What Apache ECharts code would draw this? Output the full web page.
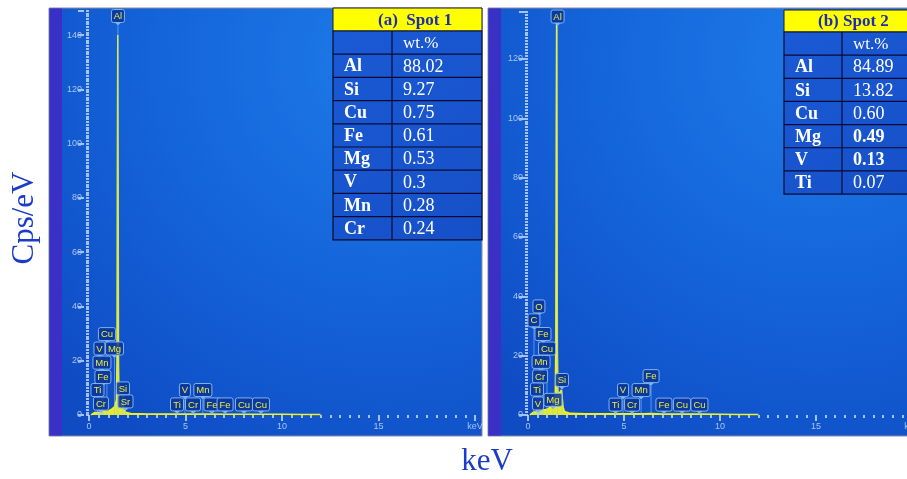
<!DOCTYPE html>
<html>
<head>
<meta charset="utf-8">
<script src="https://cdn.jsdelivr.net/npm/echarts@6/dist/echarts.min.js"></script>
<style>html,body{margin:0;padding:0;background:#fff;}#c{width:907px;height:479px;}</style>
</head>
<body>
<div id="c"></div>
<script>
// ---------- DATA ----------
const xTickValues = [0, 5, 10, 15, 20];
const yTickLabels = [0, 20, 40, 60, 80, 100, 120, 140];

const spot1Energy = [0.10,0.20,0.28,0.35,0.45,0.52,0.58,0.65,0.72,0.80,0.90,0.95,1.02,1.10,1.18,1.25,1.32,1.38,1.42,1.45,1.47,1.49,1.51,1.53,1.56,1.60,1.65,1.70,1.74,1.78,1.83,1.90,2.00,2.20,2.60,3.00,4.00,4.50,4.95,5.40,6.00,6.40,7.00,8.00,9.00,10.0,11.0,12.0];
const spot1Counts = [0.0,0.3,0.9,1.1,0.9,1.2,1.0,1.3,1.5,1.2,1.4,1.8,1.5,1.7,2.2,2.6,3.0,3.6,5.5,20,90,140,85,18,5.5,4.0,3.2,3.6,4.8,3.5,1.8,1.0,0.7,0.5,0.45,0.4,0.35,0.35,0.4,0.35,0.35,0.4,0.3,0.3,0.3,0.25,0.2,0.2];

const spot2Energy = spot1Energy;
const spot2Counts = [0.0,0.4,1.0,1.3,1.1,1.4,1.2,1.5,1.8,1.6,1.8,2.2,2.0,2.3,2.8,3.4,4.0,5.0,7.0,25,95,132,90,22,8.0,7.0,6.5,7.0,8.5,6.0,2.5,1.2,0.8,0.55,0.5,0.45,0.4,0.4,0.45,0.4,0.4,0.5,0.35,0.3,0.3,0.25,0.2,0.2];

// peak markers: [energy (keV), marker height (Cps/eV), element]
const spot1Peaks = [
  [1.50,147,'Al'],[0.93,29.8,'Cu'],[0.54,24.5,'V'],[1.32,24.5,'Mg'],[0.67,19.3,'Mn'],
  [0.72,14.0,'Fe'],[0.44,9.2,'Ti'],[1.76,9.8,'Si'],[0.62,4.2,'Cr'],[1.89,5.0,'Sr'],
  [4.56,3.9,'Ti'],[4.97,9.2,'V'],[5.39,3.9,'Cr'],[5.90,9.2,'Mn'],[6.37,3.9,'Fe'],
  [7.05,3.9,'Fe'],[8.03,3.9,'Cu'],[8.91,3.9,'Cu']
];
const spot2Peaks = [
  [1.54,134.3,'Al'],[0.57,36.6,'O'],[0.31,31.9,'C'],[0.78,27.3,'Fe'],[0.99,22.4,'Cu'],
  [0.68,17.9,'Mn'],[0.63,13.0,'Cr'],[0.47,8.6,'Ti'],[1.77,11.8,'Si'],[0.52,3.9,'V'],
  [1.30,5.1,'Mg'],[4.56,3.5,'Ti'],[4.95,8.4,'V'],[5.42,3.5,'Cr'],[5.89,8.4,'Mn'],
  [6.41,13.1,'Fe'],[7.08,3.5,'Fe'],[8.02,3.5,'Cu'],[8.93,3.5,'Cu']
];

const table1Title = '(a)  Spot 1';
const table1Elements = ['Al','Si','Cu','Fe','Mg','V','Mn','Cr'];
const table1Values = ['88.02','9.27','0.75','0.61','0.53','0.3','0.28','0.24'];
const table2Title = '(b) Spot 2';
const table2Elements = ['Al','Si','Cu','Mg','V','Ti'];
const table2Values = ['84.89','13.82','0.60','0.49','0.13','0.07'];
const table2BoldValues = ['0.49','0.13'];
const unitHeader = 'wt.%';
const yAxisTitle = 'Cps/eV';
const xAxisTitle = 'keV';

// ---------- CHART ----------
const chart = echarts.init(document.getElementById('c'), null, {renderer:'canvas'});
const mctx = document.createElement('canvas').getContext('2d');
const labelFont = '9.5px "Liberation Sans", Arial, sans-serif';
mctx.font = labelFont;

function zip(e, c){ return e.map((v,i)=>[v,c[i]]); }

function peakRender(peaks){
  return function(params, api){
    const d = peaks[params.dataIndex];
    const p = api.coord([d[0], d[1]]);
    const b = api.coord([d[0], 0]);
    const w = Math.round(mctx.measureText(d[2]).width) + 5;
    const h = 13;
    return {
      type:'group',
      children:[
        {type:'line', shape:{x1:p[0], y1:p[1]+h/2+3, x2:p[0], y2:b[1]},
          style:{stroke:'rgba(150,200,255,0.55)', lineWidth:1}},
        {type:'rect', shape:{x:p[0]-w/2, y:p[1]-h/2, width:w, height:h, r:2},
          style:{fill:'rgba(12,52,150,0.85)', stroke:'#7cb4f4', lineWidth:1}},
        {type:'polygon', shape:{points:[[p[0]-3,p[1]+h/2],[p[0]+3,p[1]+h/2],[p[0],p[1]+h/2+3]]},
          style:{fill:'#7cb4f4'}},
        {type:'text', x:p[0], y:p[1]+0.5,
          style:{text:d[2], fill:'#e8ef3c', font:labelFont, align:'center', verticalAlign:'middle'}}
      ]
    };
  };
}

const grids = [
  {left:89, top:10.6, width:386, height:404.4, outerBoundsMode:'none', containLabel:false},
  {left:528, top:11.5, width:384, height:403.5, outerBoundsMode:'none', containLabel:false}
];
const yMax = [149, 136];

const tickCol = '#d4e6ff';
const labCol = '#a6c6f2';

const xAxes = grids.map((g,i)=>({
  gridIndex:i, type:'value', position:'bottom', min:0, max:20, interval:5, offset:3,
  axisLine:{show:false},
  axisTick:{show:true, length:6, lineStyle:{color:tickCol, width:1.5}},
  minorTick:{show:true, splitNumber:10, length:3, lineStyle:{color:tickCol, width:1.5}},
  splitLine:{show:false}, minorSplitLine:{show:false},
  axisLabel:{color:labCol, fontSize:9, margin:4, showMaxLabel:true, showMinLabel:true,
    fontFamily:'"Liberation Sans", Arial, sans-serif',
    formatter:v=> v===20 ? 'keV' : String(v)}
}));

const yAxes = [];
grids.forEach((g,i)=>{
  const off = i===0 ? 5 : 3;
  // fine ticks every 1 unit
  yAxes.push({gridIndex:i, type:'value', position:'left', min:0, max:yMax[i], interval:1, offset:off,
    axisLine:{show:false}, splitLine:{show:false},
    axisTick:{show:true, length:3, lineStyle:{color:tickCol, width:1.5}},
    axisLabel:{show:false}});
  // major ticks every 20 with labels
  yAxes.push({gridIndex:i, type:'value', position:'left', min:0, max:yMax[i], interval:20, offset:off,
    axisLine:{show:false}, splitLine:{show:false},
    axisTick:{show:true, length:6, lineStyle:{color:tickCol, width:1.5}},
    axisLabel:{color:labCol, fontSize:9, margin:2,
      fontFamily:'"Liberation Sans", Arial, sans-serif',
      formatter:v=> yTickLabels.indexOf(v)>=0 ? String(v) : ''}});
});

const series = [
  {type:'line', xAxisIndex:0, yAxisIndex:0, data:zip(spot1Energy, spot1Counts), symbol:'none',
    lineStyle:{color:'#f2f21e', width:1.5}, areaStyle:{color:'#f2f21e', opacity:0.95}, z:3, animation:false},
  {type:'line', xAxisIndex:1, yAxisIndex:2, data:zip(spot2Energy, spot2Counts), symbol:'none',
    lineStyle:{color:'#f2f21e', width:1.5}, areaStyle:{color:'#f2f21e', opacity:0.95}, z:3, animation:false},
  {type:'custom', xAxisIndex:0, yAxisIndex:0, data:spot1Peaks.map(d=>[d[0],d[1]]),
    renderItem:peakRender(spot1Peaks), clip:false, z:4, animation:false, silent:true},
  {type:'custom', xAxisIndex:1, yAxisIndex:2, data:spot2Peaks.map(d=>[d[0],d[1]]),
    renderItem:peakRender(spot2Peaks), clip:false, z:4, animation:false, silent:true}
];

// ---------- GRAPHICS: panels, tables, titles ----------
const serif = '"Liberation Serif", "Times New Roman", serif';
function panel(x, w){
  return [
    {type:'rect', z:-10, shape:{x:x, y:8, width:w, height:428},
      style:{fill:{type:'radial', x:0.78, y:0.12, r:1.05, colorStops:[
        {offset:0, color:'#1d7be8'},{offset:0.55, color:'#1462d8'},{offset:1, color:'#0f4cc4'}]},
        stroke:'#8c8c9c', lineWidth:1}},
    {type:'rect', z:-9, shape:{x:x+0.5, y:8.5, width:12.5, height:427}, style:{fill:'#3a30c6'}}
  ];
}

function table(x0, x1, colX, y0, headH, rowH, title, titleX, els, vals, boldVals){
  const n = els.length + 1;
  const yBody = y0 + headH;
  const yEnd = yBody + n*rowH;
  const g = [];
  g.push({type:'rect', z:50, shape:{x:x0, y:y0, width:x1-x0, height:headH},
    style:{fill:'#ffff00', stroke:'#1a1a40', lineWidth:1}});
  g.push({type:'text', z:52, x:titleX, y:y0+headH/2+1,
    style:{text:title, fill:'#1c2cb4', font:'bold 17px '+serif, verticalAlign:'middle', align:'left'}});
  g.push({type:'rect', z:50, shape:{x:x0, y:yBody, width:x1-x0, height:n*rowH},
    style:{fill:{type:'linear', x:0, y:0, x2:1, y2:1, colorStops:[{offset:0,color:'#1a5ad4'},{offset:1,color:'#1650c8'}]},
      stroke:'#0a0a30', lineWidth:1.2}});
  for(let r=1;r<n;r++){
    g.push({type:'line', z:51, shape:{x1:x0, y1:yBody+r*rowH, x2:x1, y2:yBody+r*rowH},
      style:{stroke:'#0a0a30', lineWidth:1.2}});
  }
  g.push({type:'line', z:51, shape:{x1:colX, y1:yBody, x2:colX, y2:yEnd}, style:{stroke:'#0a0a30', lineWidth:1.2}});
  g.push({type:'text', z:52, x:colX+11, y:yBody+rowH/2+1,
    style:{text:unitHeader, fill:'#ffffff', font:'17px '+serif, verticalAlign:'middle'}});
  els.forEach((e,i)=>{
    const cy = yBody + (i+1)*rowH + rowH/2 + 1;
    g.push({type:'text', z:52, x:x0+11, y:cy,
      style:{text:e, fill:'#ffffff', font:'bold 18px '+serif, verticalAlign:'middle'}});
    const b = boldVals.indexOf(vals[i])>=0;
    g.push({type:'text', z:52, x:colX+11, y:cy,
      style:{text:vals[i], fill:'#ffffff', font:(b?'bold ':'')+'18px '+serif, verticalAlign:'middle'}});
  });
  return g;
}

const graphics = [].concat(
  panel(49, 433),
  panel(488, 425),
  table(333, 482, 392, 8, 23, 23.2, table1Title, 378, table1Elements, table1Values, []),
  table(784, 912, 842, 10, 22, 23.15, table2Title, 818, table2Elements, table2Values, table2BoldValues),
  [
    {type:'text', z:60, x:25, y:218, rotation:Math.PI/2,
      style:{text:yAxisTitle, fill:'#1a3cc8', font:'31px '+serif, align:'center', verticalAlign:'middle'}},
    {type:'text', z:60, x:487, y:462,
      style:{text:xAxisTitle, fill:'#1a3cc8', font:'31px '+serif, align:'center', verticalAlign:'middle'}}
  ]
);

chart.setOption({
  animation:false,
  backgroundColor:'#ffffff',
  grid:grids,
  xAxis:xAxes,
  yAxis:yAxes,
  series:series,
  graphic:{elements:graphics}
});
</script>
</body>
</html>
